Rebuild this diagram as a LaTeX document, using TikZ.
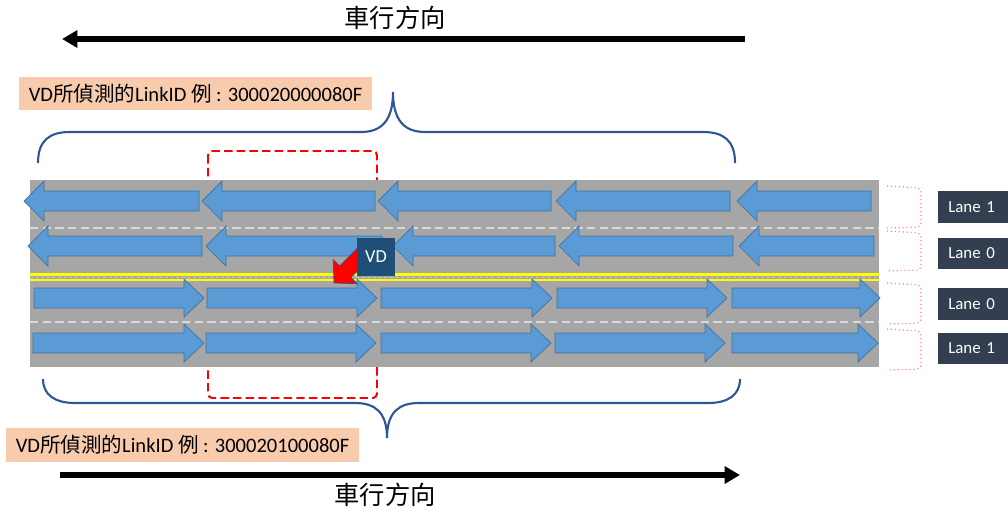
\documentclass[tikz,border=0pt]{standalone}
\usepackage{fontspec}
\setmainfont{Carlito}
\newfontfamily\cjk{Noto Sans CJK TC}
\usetikzlibrary{arrows.meta}

\definecolor{roadgray}{HTML}{A6A6A6}
\definecolor{flowblue}{HTML}{5B9BD5}
\definecolor{flowedge}{HTML}{41719C}
\definecolor{bracecol}{HTML}{2F5597}
\definecolor{peach}{HTML}{F8CBAD}
\definecolor{vdblue}{HTML}{1F4E79}
\definecolor{lanebox}{HTML}{333F50}
\definecolor{marklight}{HTML}{D9D9D9}
\definecolor{paleRed}{HTML}{FF7C80}
\definecolor{lineyellow}{HTML}{FFFF00}

\tikzset{
  flow/.style={fill=flowblue, draw=flowedge, line width=0.5pt},
  lanelabel/.style={rectangle, fill=lanebox, text=white, anchor=west, text width=1.5cm, inner xsep=0.25cm, minimum height=0.78cm, font=\fontsize{12}{14}\selectfont},
  idlabel/.style={rectangle, fill=peach, minimum width=8.8cm, minimum height=0.84cm, font=\fontsize{14.6}{16}\selectfont},
  linkbrace/.style={draw=bracecol, line width=1.5pt},
  dirarrow/.style={line width=3.8pt, -{Triangle[length=11pt, width=12pt]}},
  lanebracket/.style={draw=paleRed, dotted, line width=0.8pt, rounded corners=3pt},
}

\begin{document}
\begin{tikzpicture}[x=0.025cm, y=-0.025cm]
\useasboundingbox (0,0) rectangle (1008,514);

% driving direction, upper side
\node [font=\cjk\fontsize{18}{20}\selectfont] (dirtop) at (395,18) {車行方向};
\coordinate (topstart) at (745,39);
\coordinate (topend) at (62,39);
\draw [dirarrow] (topstart) -- (topend);

\node [idlabel] (idtop) at (195.5,93.5) {VD{\cjk 所偵測的}LinkID {\cjk 例} : 300020000080F};

% braces over the link
\draw [linkbrace] (38,163) .. controls (38,140) and (50,132) .. (70,132) -- (361,132) .. controls (382,132) and (393,120) .. (393,92) .. controls (393,120) and (404,132) .. (425,132) -- (703,132) .. controls (723,132) and (735,140) .. (735,163);
\draw [linkbrace] (43,379) .. controls (43,395) and (55,403) .. (75,403) -- (355,403) .. controls (375,403) and (387,412) .. (387,438) .. controls (387,412) and (399,403) .. (419,403) -- (708,403) .. controls (728,403) and (740,395) .. (740,379);

% detection zone
\draw [red, dash pattern=on 6pt off 3pt, line width=1.4pt, rounded corners=3pt] (208,151) rectangle (377,398);

% road
\fill [roadgray] (30,180) rectangle (879,367);
\draw [marklight, dash pattern=on 6pt off 3pt, line width=1pt] (30,228) -- (879,228);
\draw [marklight, dash pattern=on 6pt off 3pt, line width=1pt] (30,322) -- (879,322);
\draw [lineyellow, line width=2pt] (30,274.5) -- (879,274.5);
\draw [lineyellow, line width=2pt] (30,280) -- (879,280);
\draw [marklight!80!gray, dash pattern=on 2pt off 2pt, line width=0.4pt] (30,277.2) -- (879,277.2);

% lanes towards the left
\foreach \a/\b in {24/199, 202/375, 378/551, 556/730, 737/871}
  \draw [flow] (\a,201) -- (\a+20,181) -- (\a+20,191) -- (\b,191) -- (\b,211) -- (\a+20,211) -- (\a+20,221) -- cycle;
\foreach \a/\b in {28/202, 206/382, 393/555, 559/733, 739/874}
  \draw [flow] (\a,246) -- (\a+20,226) -- (\a+20,236) -- (\b,236) -- (\b,256) -- (\a+20,256) -- (\a+20,266) -- cycle;

% lanes towards the right
\foreach \a/\b in {34/204, 207/377, 381/552, 557/727, 732/880}
  \draw [flow] (\b,298) -- (\b-20,279) -- (\b-20,288) -- (\a,288) -- (\a,308) -- (\b-20,308) -- (\b-20,317) -- cycle;
\foreach \a/\b in {33/204, 206/376, 381/551, 555/725, 732/878}
  \draw [flow] (\b,343) -- (\b-20,324) -- (\b-20,333) -- (\a,333) -- (\a,353) -- (\b-20,353) -- (\b-20,362) -- cycle;

% detector
\draw [fill=red, draw=bracecol, line width=0.5pt] (334,283) -- (357.3,283.7) -- (351,277.4) -- (372.2,256.2) -- (360.8,244.8) -- (339.6,266) -- (333.3,259.7) -- cycle;
\node [rectangle, fill=vdblue, text=white, minimum width=0.95cm, minimum height=0.97cm, font=\fontsize{13}{15}\selectfont] (vd) at (376,257) {VD};

% lane numbers
\draw [lanebracket] (887,186) -- (921,188) -- (921,227) -- (887,228);
\draw [lanebracket] (887,231) -- (921,233) -- (921,270) -- (887,271);
\draw [lanebracket] (887,283) -- (921,285) -- (921,323) -- (887,324);
\draw [lanebracket] (887,329) -- (921,331) -- (921,369) -- (887,370);
\node [lanelabel] (lanetopout) at (938,207) {Lane 1};
\node [lanelabel] (lanetopin) at (938,253.5) {Lane 0};
\node [lanelabel] (lanebotin) at (938,304) {Lane 0};
\node [lanelabel] (lanebotout) at (938,348.5) {Lane 1};

\node [idlabel] (idbottom) at (182.5,445) {VD{\cjk 所偵測的}LinkID {\cjk 例} : 300020100080F};

% driving direction, lower side
\coordinate (botstart) at (60,475);
\coordinate (botend) at (740,475);
\draw [dirarrow] (botstart) -- (botend);
\node [font=\cjk\fontsize{18}{20}\selectfont] (dirbot) at (385,495) {車行方向};
\end{tikzpicture}
\end{document}
